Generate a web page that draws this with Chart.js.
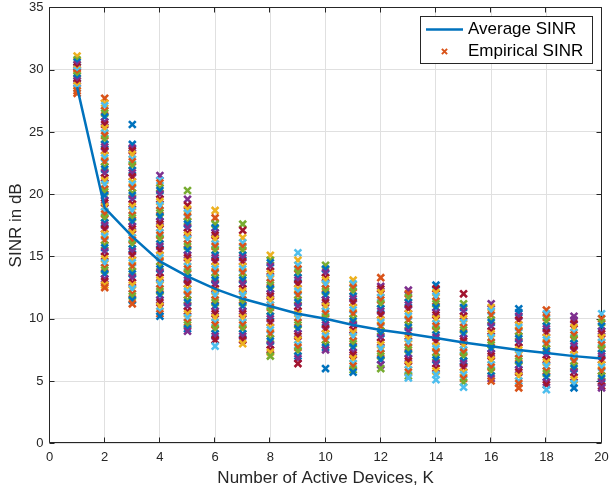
<!DOCTYPE html>
<html>
<head>
<meta charset="utf-8">
<script src="https://cdn.jsdelivr.net/npm/chart.js@4.4.1/dist/chart.umd.min.js"></script>
<style>
html,body{margin:0;padding:0;background:#fff;}
#wrap{width:609px;height:491px;}
</style>
</head>
<body>
<div id="wrap"><canvas id="c" width="609" height="491"></canvas></div>
<script>
// ---- data ----
const devicesK = [1,2,3,4,5,6,7,8,9,10,11,12,13,14,15,16,17,18,19,20];
const averageSINR = [28.6,18.9,16.6,14.6,13.4,12.4,11.6,11.0,10.4,10.0,9.5,9.1,8.8,8.45,8.1,7.8,7.5,7.25,7.0,6.8];
const empK1  = [31.1,30.8,30.6,30.4,30.2,30.0,29.9,29.7,29.5,29.3,29.1,28.9,28.7,28.5,28.3,28.1];
const empK2  = [27.7,27.3,27.1,26.7,26.5,26.2,25.8,25.6,25.3,24.9,24.7,24.4,24.0,23.8,23.5,23.1,22.9,22.6,22.2,22.0,21.7,21.3,21.1,20.8,20.4,20.2,19.9,19.5,19.3,19.0,18.6,18.4,18.1,17.7,17.5,17.2,16.8,16.6,16.3,15.9,15.7,15.4,15.0,14.8,14.5,14.1,13.9,13.6,13.2,13.0,12.7,12.5];
const empK3  = [25.6,24.0,23.7,23.5,23.2,22.8,22.6,22.3,21.9,21.7,21.4,21.0,20.8,20.5,20.1,19.9,19.6,19.2,19.0,18.7,18.3,18.1,17.8,17.4,17.2,16.9,16.5,16.3,16.0,15.6,15.4,15.1,14.7,14.5,14.2,13.8,13.6,13.3,12.9,12.7,12.4,12.0,11.8,11.5,11.2];
const empK4  = [21.5,21.1,20.9,20.5,20.3,20.0,19.6,19.4,19.1,18.7,18.5,18.2,17.8,17.6,17.3,16.9,16.7,16.4,16.0,15.8,15.5,15.1,14.9,14.6,14.2,14.0,13.7,13.3,13.1,12.8,12.4,12.2,11.9,11.5,11.3,11.0,10.6,10.4,10.2];
const empK5  = [20.3,19.6,19.1,18.8,18.5,18.2,17.8,17.6,17.3,16.9,16.7,16.4,16.0,15.8,15.5,15.1,14.9,14.6,14.2,14.0,13.7,13.3,13.1,12.8,12.4,12.2,11.9,11.5,11.3,11.0,10.6,10.4,10.1,9.7,9.5,9.2,9.0];
const empK6  = [18.7,18.1,17.6,17.3,16.9,16.7,16.4,16.0,15.8,15.5,15.1,14.9,14.6,14.2,14.0,13.7,13.3,13.1,12.8,12.4,12.2,11.9,11.5,11.3,11.0,10.6,10.4,10.1,9.7,9.5,9.2,8.8,8.6,8.3,7.8];
const empK7  = [17.6,17.1,16.5,16.1,15.8,15.5,15.1,14.9,14.6,14.2,14.0,13.7,13.3,13.1,12.8,12.4,12.2,11.9,11.5,11.3,11.0,10.6,10.4,10.1,9.7,9.5,9.2,8.8,8.6,8.3,8.0];
const empK8  = [15.1,14.7,14.5,14.2,13.8,13.6,13.3,12.9,12.7,12.4,12.0,11.8,11.5,11.1,10.9,10.6,10.2,10.0,9.7,9.3,9.1,8.8,8.4,8.2,7.9,7.5,7.3,7.0];
const empK9  = [15.3,14.7,14.3,14.0,13.7,13.3,13.1,12.8,12.4,12.2,11.9,11.5,11.3,11.0,10.6,10.4,10.1,9.7,9.5,9.2,8.8,8.6,8.3,7.9,7.7,7.4,7.0,6.8,6.4];
const empK10 = [14.3,14.0,13.7,13.3,13.1,12.8,12.4,12.2,11.9,11.5,11.3,11.0,10.6,10.4,10.1,9.7,9.5,9.2,8.8,8.6,8.3,7.9,7.7,7.5,6.0];
const empK11 = [13.1,12.8,12.5,12.2,11.8,11.6,11.3,10.9,10.7,10.4,10.0,9.8,9.5,9.1,8.9,8.6,8.2,8.0,7.7,7.3,7.1,6.8,6.4,6.2,5.9,5.7];
const empK12 = [13.3,12.6,12.4,12.1,11.7,11.5,11.2,10.8,10.6,10.3,9.9,9.7,9.4,9.0,8.8,8.5,8.1,7.9,7.6,7.2,7.0,6.7,6.3,6.0];
const empK13 = [12.3,12.0,11.7,11.3,11.1,10.8,10.4,10.2,9.9,9.5,9.3,9.0,8.6,8.4,8.1,7.7,7.5,7.2,6.8,6.6,6.3,5.9,5.7,5.4,5.25];
const empK14 = [12.7,12.4,12.1,11.8,11.4,11.2,10.9,10.5,10.3,10.0,9.6,9.4,9.1,8.7,8.5,8.2,7.8,7.6,7.3,6.9,6.7,6.4,6.0,5.8,5.5,5.1];
const empK15 = [12.0,11.2,10.9,10.6,10.2,10.0,9.7,9.3,9.1,8.8,8.4,8.2,7.9,7.5,7.3,7.0,6.6,6.4,6.1,5.7,5.5,5.2,4.9,4.5];
const empK16 = [11.2,10.9,10.6,10.3,9.9,9.7,9.4,9.0,8.8,8.5,8.1,7.9,7.6,7.2,7.0,6.7,6.3,6.1,5.8,5.4,5.2,5.0];
const empK17 = [10.8,10.5,10.2,9.9,9.5,9.3,9.0,8.6,8.4,8.1,7.7,7.5,7.2,6.8,6.6,6.3,5.9,5.7,5.4,5.0,4.8,4.45];
const empK18 = [10.7,10.4,10.1,9.8,9.4,9.2,8.9,8.5,8.3,8.0,7.6,7.4,7.1,6.7,6.5,6.2,5.8,5.6,5.3,4.9,4.7,4.3];
const empK19 = [10.2,9.9,9.6,9.3,8.9,8.7,8.4,8.0,7.8,7.5,7.1,6.9,6.6,6.2,6.0,5.7,5.3,5.1,4.8,4.45];
const empK20 = [10.4,10.0,9.7,9.4,9.0,8.8,8.5,8.1,7.9,7.6,7.2,7.0,6.7,6.3,6.1,5.8,5.4,5.2,4.9,4.6,4.45];
const empiricalByK = [empK1,empK2,empK3,empK4,empK5,empK6,empK7,empK8,empK9,empK10,empK11,empK12,empK13,empK14,empK15,empK16,empK17,empK18,empK19,empK20];
// colour index (MATLAB colour order) of the topmost / bottom-most marker in each column
const topMarkerColor    = [2,1,0,3,4,2,4,2,5,4,2,1,3,0,6,3,0,1,3,5];
const bottomMarkerColor = [1,1,1,0,3,5,2,4,6,0,0,4,5,5,5,1,1,5,0,3];
const xTicks = [0,2,4,6,8,10,12,14,16,18,20];
const yTicks = [0,5,10,15,20,25,30,35];
const seriesLabels = ['Average SINR','Empirical SINR'];
const xTitle = 'Number of Active Devices, K';
const yTitle = 'SINR in dB';

// ---- styling ----
const colorOrder = ['#0072BD','#D95319','#EDB120','#7E2F8E','#77AC30','#4DBEEE','#A2142F'];
const FONT = "'Liberation Sans', Arial, Helvetica, sans-serif";
const AXIS_COLOR = '#262626';

const linePoints = devicesK.map((k,i)=>({x:k,y:averageSINR[i]}));
const scatterPoints = [], scatterColors = [];
devicesK.forEach((k,ki)=>{
  const col = empiricalByK[ki];
  col.forEach((v,i)=>{
    scatterPoints.push({x:k,y:v});
    let ci = (i*3 + ki*5 + 1) % 7;
    if (i === 0) ci = topMarkerColor[ki];
    else if (i === col.length-1) ci = bottomMarkerColor[ki];
    scatterColors.push(colorOrder[ci]);
  });
});

const framePlugin = {
  id:'frame',
  beforeDatasetsDraw(chart){
    const {ctx, chartArea:a, scales} = chart;
    ctx.save();
    ctx.strokeStyle = AXIS_COLOR;
    ctx.lineWidth = 1;
    ctx.beginPath();
    const L = Math.round(a.left)-0.5, R = Math.round(a.right)-0.5, T = Math.round(a.top)+0.5, B = Math.round(a.bottom)-0.5;
    ctx.rect(L, T, R-L, B-T);
    const tl = 5;
    xTicks.forEach(v=>{
      const px = Math.round(scales.x.getPixelForValue(v))-0.5;
      ctx.moveTo(px,B); ctx.lineTo(px,B-tl);
      ctx.moveTo(px,T); ctx.lineTo(px,T+tl);
    });
    yTicks.forEach(v=>{
      const py = Math.round(scales.y.getPixelForValue(v))+0.5;
      ctx.moveTo(L,py); ctx.lineTo(L+tl,py);
      ctx.moveTo(R,py); ctx.lineTo(R-tl,py);
    });
    ctx.stroke();
    ctx.restore();
  },
  afterDraw(chart){
    const {ctx} = chart;
    ctx.save();
    const bx = 420.5, by = 16.5, bw = 172, bh = 47;
    ctx.fillStyle = '#ffffff';
    ctx.fillRect(bx,by,bw,bh);
    ctx.strokeStyle = AXIS_COLOR;
    ctx.lineWidth = 1;
    ctx.strokeRect(bx,by,bw,bh);
    ctx.strokeStyle = colorOrder[0];
    ctx.lineWidth = 2.5;
    ctx.beginPath(); ctx.moveTo(426,29.5); ctx.lineTo(463,29.5); ctx.stroke();
    ctx.strokeStyle = colorOrder[1];
    ctx.lineWidth = 2;
    const mx = 444.5, my = 51.5, r = 2.6;
    ctx.beginPath();
    ctx.moveTo(mx-r,my-r); ctx.lineTo(mx+r,my+r);
    ctx.moveTo(mx+r,my-r); ctx.lineTo(mx-r,my+r);
    ctx.stroke();
    ctx.fillStyle = '#000000';
    ctx.font = "17px " + FONT;
    ctx.textBaseline = 'middle';
    ctx.textAlign = 'left';
    ctx.fillText(chart.data.datasets[0].label, 468, 29.5);
    ctx.fillText(chart.data.datasets[1].label, 468, 51.5);
    ctx.restore();
  }
};

new Chart(document.getElementById('c'), {
  type:'scatter',
  data:{
    datasets:[
      {
        label: seriesLabels[0],
        data: linePoints,
        showLine:true,
        borderColor: colorOrder[0],
        backgroundColor: colorOrder[0],
        borderWidth:2.5,
        pointRadius:0,
        tension:0
      },
      {
        label: seriesLabels[1],
        data: scatterPoints,
        pointStyle:'crossRot',
        pointRadius:4.8,
        pointBorderWidth:2.6,
        pointBorderColor: scatterColors,
        pointBackgroundColor: scatterColors,
        borderColor: colorOrder[1],
        backgroundColor: colorOrder[1],
        showLine:false,
        clip:false
      }
    ]
  },
  options:{
    responsive:false,
    animation:false,
    devicePixelRatio:1,
    layout:{padding:{top:6,right:4.5,left:0,bottom:0}},
    plugins:{legend:{display:false}, tooltip:{enabled:false}},
    scales:{
      x:{
        type:'linear', min:0, max:20,
        afterFit(s){ s.height = 47.7; s.paddingLeft = 0; s.paddingRight = 0; },
        afterBuildTicks(s){ s.ticks = xTicks.map(v=>({value:v})); },
        ticks:{color:AXIS_COLOR, font:{family:FONT,size:13}, padding:6, maxRotation:0},
        grid:{color:'#E0E0E0', lineWidth:1, drawTicks:false},
        border:{display:false},
        title:{display:true, text:xTitle, color:AXIS_COLOR, font:{family:FONT,size:17}, padding:{top:0,bottom:2.5}}
      },
      y:{
        type:'linear', min:0, max:35,
        afterFit(s){ s.width = 49.5; s.paddingTop = 0; s.paddingBottom = 0; },
        afterBuildTicks(s){ s.ticks = yTicks.map(v=>({value:v})); },
        ticks:{color:AXIS_COLOR, font:{family:FONT,size:13}, padding:6},
        grid:{color:'#E0E0E0', lineWidth:1, drawTicks:false},
        border:{display:false},
        title:{display:true, text:yTitle, color:AXIS_COLOR, font:{family:FONT,size:17}, padding:{top:6.5,bottom:0}}
      }
    }
  },
  plugins:[framePlugin]
});
</script>
</body>
</html>
